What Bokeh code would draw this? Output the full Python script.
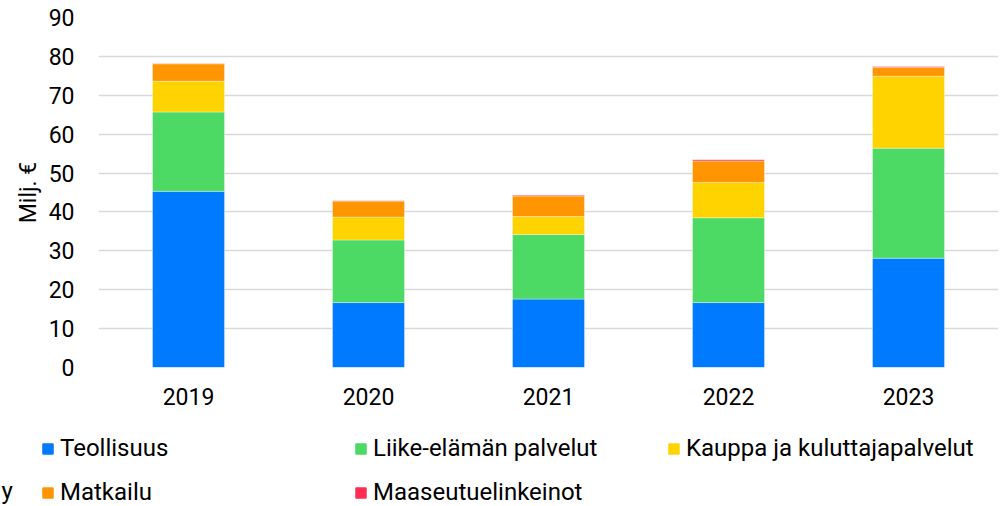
from bokeh.plotting import figure
from bokeh.layouts import column, row
from bokeh.models import ColumnDataSource, FactorRange, Range1d, Legend, LegendItem, Label
from bokeh.embed import file_html
from bokeh.resources import INLINE

years = ["2019", "2020", "2021", "2022", "2023"]
teollisuus = [45.3, 16.7, 17.6, 16.7, 28.1]
liike = [20.4, 16.1, 16.6, 21.8, 28.3]
kauppa = [7.9, 5.9, 4.6, 9.1, 18.5]
matkailu = [4.5, 4.1, 5.3, 5.5, 2.3]
maaseutu = [0.1, 0.1, 0.2, 0.3, 0.2]

series = ["Teollisuus", "Liike-elämän palvelut", "Kauppa ja kuluttajapalvelut",
          "Matkailu", "Maaseutuelinkeinot"]
colors = ["#007AFF", "#4CD964", "#FFD300", "#FF9500", "#FF2D55"]
y_ticks = [0, 10, 20, 30, 40, 50, 60, 70, 80, 90]
y_label = "Milj. €"

FONT = "Roboto"
FS = "23px"
LFS = "24px"

source = ColumnDataSource(dict(year=years, s0=teollisuus, s1=liike, s2=kauppa,
                               s3=matkailu, s4=maaseutu))

W = 1000
H1, H2 = 420, 86
LEFT, TOP, RIGHT = 98, 17, 2
FRAME_H = 350

p = figure(width=W, height=H1, x_range=FactorRange(*years), y_range=Range1d(0, 90),
           output_backend="svg", toolbar_location=None,
           min_border_left=LEFT, min_border_right=RIGHT, min_border_top=TOP,
           min_border_bottom=H1 - TOP - FRAME_H)
p.outline_line_color = None

renderers = p.vbar_stack(["s0", "s1", "s2", "s3", "s4"], x="year", width=0.4,
                         color=colors, source=source,
                         line_color="white", line_alpha=0.35, line_width=1)

p.xgrid.visible = False
p.ygrid.grid_line_color = "#d9d9d9"
p.ygrid.grid_line_width = 1.6

p.yaxis.ticker = y_ticks
p.yaxis.axis_label = y_label
for ax in (p.xaxis[0], p.yaxis[0]):
    ax.axis_line_color = None
    ax.major_tick_line_color = None
    ax.minor_tick_line_color = None
    ax.major_tick_out = 0
    ax.major_tick_in = 0
    ax.major_label_text_font = FONT
    ax.major_label_text_font_size = FS
    ax.major_label_text_color = "#000000"
p.yaxis.major_label_standoff = 24
p.yaxis.axis_label_text_font = FONT
p.yaxis.axis_label_text_font_size = FS
p.yaxis.axis_label_text_font_style = "normal"
p.yaxis.axis_label_text_color = "#000000"
p.yaxis.axis_label_standoff = 4
p.xaxis.major_label_standoff = 20

# legend strip, in pixel-like data units (y grows downward)
q = figure(width=W, height=H2, x_range=Range1d(0, W), y_range=Range1d(H2, 0),
           output_backend="svg", toolbar_location=None,
           x_axis_type=None, y_axis_type=None,
           min_border=0, min_border_left=0, min_border_right=0,
           min_border_top=0, min_border_bottom=0)
q.outline_line_color = None
q.grid.visible = False

dummies = [q.vbar(x=[500], top=[300], bottom=[290], width=1, color=c) for c in colors]

def make_legend(idx, x, y):
    items = [LegendItem(label=series[i], renderers=[dummies[i]]) for i in idx]
    lg = Legend(items=items, orientation="vertical", location=(x, y),
                glyph_width=13, glyph_height=13, label_standoff=6,
                label_height=24, spacing=16, padding=0, margin=0,
                label_text_font=FONT, label_text_font_size=LFS,
                label_text_color="#000000",
                border_line_color=None, background_fill_alpha=0)
    q.add_layout(lg, "center")

make_legend([0, 3], 41, 0)
make_legend([1, 4], 354, 0)
make_legend([2], 667, 44)

q.add_layout(Label(x=1, y=70, text="y", text_font=FONT, text_font_size=LFS,
                   text_color="#000000", text_baseline="middle"))

layout = column(p, row(q), spacing=0)
open("out.html", "w").write(file_html(layout, INLINE))
